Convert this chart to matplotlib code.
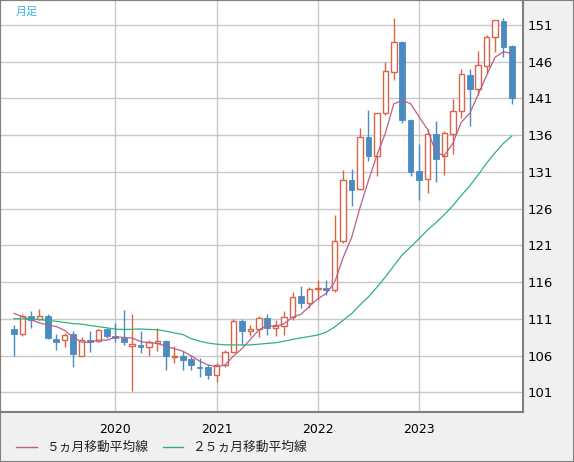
import matplotlib
matplotlib.use("Agg")
import matplotlib.pyplot as plt
from matplotlib.lines import Line2D
from matplotlib.patches import Rectangle

# monthly candles, Jan 2019 .. Dec 2023
opens = [109.65, 108.9, 111.45, 110.95, 111.45, 108.2, 108.1, 108.9, 105.95, 108.15, 108.0, 109.55,
         108.7, 108.45, 107.35, 107.5, 107.2, 107.65, 107.95, 105.8, 106.0, 105.5, 104.5, 104.4,
         103.35, 104.7, 106.55, 110.75, 109.35, 109.65, 111.15, 109.8, 110.0, 111.3, 114.15, 113.2,
         115.1, 115.15, 114.95, 121.6, 129.95, 128.7, 135.8, 133.15, 139.0, 144.6, 148.65, 138.1,
         131.15, 130.0, 136.2, 133.15, 136.15, 139.3, 144.15, 142.25, 145.4, 149.3, 151.55, 148.15]
highs = [110.1, 111.6, 112.1, 112.4, 111.7, 108.9, 109.1, 109.3, 108.5, 109.4, 109.6, 109.7,
         110.4, 112.2, 111.7, 109.4, 108.1, 109.8, 108.1, 107.3, 106.6, 106.1, 105.7, 104.8,
         104.95, 106.7, 111.0, 110.95, 110.2, 111.35, 111.7, 110.9, 112.05, 114.7, 115.5, 115.4,
         116.35, 116.35, 125.1, 131.3, 131.35, 137.0, 139.4, 139.05, 145.9, 151.95, 148.85, 138.2,
         134.8, 136.9, 137.9, 136.6, 140.95, 145.05, 144.95, 147.4, 149.7, 151.7, 151.95, 148.25]
lows = [105.9, 108.6, 109.7, 110.8, 108.3, 106.7, 107.2, 104.4, 105.9, 106.5, 107.9, 108.4,
        107.8, 107.5, 101.2, 106.4, 106.0, 106.6, 104.1, 105.0, 104.0, 104.0, 103.1, 102.8,
        102.45, 104.4, 106.4, 107.45, 108.6, 108.55, 108.75, 108.6, 108.75, 110.9, 112.45, 112.5,
        113.5, 114.2, 114.6, 121.3, 126.3, 128.6, 132.5, 130.4, 138.7, 143.5, 137.7, 130.5,
        127.2, 128.1, 129.65, 130.6, 133.45, 138.4, 137.25, 141.5, 144.45, 147.3, 146.65, 140.2]
closes = [108.9, 111.45, 110.9, 111.4, 108.35, 107.8, 108.8, 106.2, 108.15, 107.9, 109.5, 108.6,
          108.4, 107.9, 107.55, 107.15, 107.9, 108.0, 105.9, 105.95, 105.4, 104.7, 104.25, 103.35,
          104.75, 106.55, 110.75, 109.3, 109.6, 111.15, 109.8, 110.15, 111.3, 114.0, 113.1, 115.1,
          115.2, 114.9, 121.6, 129.9, 128.6, 135.75, 133.2, 139.0, 144.7, 148.65, 138.0, 131.0,
          129.95, 136.15, 132.7, 136.3, 139.3, 144.3, 142.25, 145.5, 149.35, 151.65, 148.05, 141.0]

ma5 = [111.74, 111.28, 110.87, 110.45, 110.17, 109.96, 109.43, 108.51, 107.85, 107.79, 108.12, 108.09,
       108.52, 108.48, 108.38, 107.91, 107.75, 107.66, 107.26, 106.94, 106.60, 105.97, 105.24, 104.72,
       104.49, 104.71, 105.93, 106.93, 108.19, 109.46, 110.09, 109.94, 110.34, 111.22, 111.62, 112.70,
       113.73, 114.46, 115.99, 119.34, 122.05, 126.16, 129.81, 133.28, 136.25, 140.26, 140.72, 140.29,
       138.49, 136.79, 133.59, 133.25, 134.90, 137.76, 138.97, 141.53, 144.14, 146.60, 147.36, 147.11]
ma25 = [111.04, 110.98, 110.91, 110.91, 110.78, 110.66, 110.51, 110.35, 110.28, 110.10, 109.93, 109.78,
        109.60, 109.55, 109.58, 109.62, 109.56, 109.52, 109.33, 109.09, 108.87, 108.30, 107.95, 107.70,
        107.55, 107.46, 107.45, 107.45, 107.45, 107.55, 107.65, 107.75, 107.95, 108.20, 108.40, 108.60,
        108.80, 109.20, 109.90, 110.80, 111.70, 112.90, 114.00, 115.30, 116.70, 118.20, 119.70, 120.80,
        121.90, 123.10, 124.10, 125.20, 126.40, 127.80, 129.10, 130.60, 132.20, 133.60, 134.90, 135.90]

year_ticks = [12, 24, 36, 48]
year_labels = ["2020", "2021", "2022", "2023"]
price_ticks = list(range(101, 152, 5))

up_col = "#dc6446"
down_col = "#4a8bc2"
ma5_col = "#b8608c"
ma25_col = "#2db37a"

fig = plt.figure(figsize=(5.74, 4.62), dpi=100, facecolor="#f0f0f0")
ax = fig.add_axes([0.0, 0.1076, 0.912, 0.8924])
ax.set_facecolor("white")

x = list(range(len(closes)))
for i in x:
    o, h, l, c = opens[i], highs[i], lows[i], closes[i]
    bot = min(o, c)
    hgt = max(abs(c - o), 0.15)
    if c >= o:
        ax.vlines(i, l, h, color=up_col, lw=1.0, zorder=2)
        ax.bar(i, hgt, bottom=bot, width=0.66, facecolor="white", edgecolor=up_col,
               linewidth=1.0, zorder=3)
    else:
        ax.vlines(i, l, h, color=down_col, lw=1.0, zorder=2)
        ax.bar(i, hgt, bottom=bot, width=0.66, facecolor=down_col, edgecolor=down_col,
               linewidth=0.6, zorder=3)

ax.plot(x, ma5, color=ma5_col, lw=0.9, zorder=4)
ax.plot(x, ma25, color=ma25_col, lw=0.9, zorder=4)

ax.set_xlim(-1.66, 60.37)
ax.set_ylim(98.28, 154.40)

ax.yaxis.tick_right()
ax.set_yticks(price_ticks)
ax.set_yticklabels([str(p) for p in price_ticks])
ax.set_xticks(year_ticks)
ax.set_xticklabels(year_labels)
ax.tick_params(axis="y", length=0, pad=3, labelsize=9.5, labelcolor="black")
ax.tick_params(axis="x", length=0, pad=8, labelsize=9, labelcolor="black")
ax.grid(True, color="#c8c8c8", lw=1.0, zorder=0)
ax.set_axisbelow(True)
for sp in ax.spines.values():
    sp.set_color("#808080")
    sp.set_linewidth(1.5)

ax.text(0.03, 0.972, "月足", transform=ax.transAxes, ha="left", va="center",
        fontsize=8, color="#3cb4e6", family=["Noto Sans CJK JP", "DejaVu Sans"])

# legend at the bottom
ly = 0.0325
fig.add_artist(Line2D([0.028, 0.065], [ly, ly], transform=fig.transFigure, color=ma5_col, lw=1.0))
fig.text(0.080, ly, "５ヵ月移動平均線", ha="left", va="center", fontsize=9.2,
         color="#222222", family=["Noto Sans CJK JP", "DejaVu Sans"])
fig.add_artist(Line2D([0.284, 0.319], [ly, ly], transform=fig.transFigure, color=ma25_col, lw=1.0))
fig.text(0.3345, ly, "２５ヵ月移動平均線", ha="left", va="center", fontsize=9.2,
         color="#222222", family=["Noto Sans CJK JP", "DejaVu Sans"])

fig.add_artist(Rectangle((0, 0), 1, 1, transform=fig.transFigure, fill=False,
                         edgecolor="#808080", lw=1.5))

fig.savefig("out.png", dpi=100, facecolor=fig.get_facecolor())
plt.close(fig)
